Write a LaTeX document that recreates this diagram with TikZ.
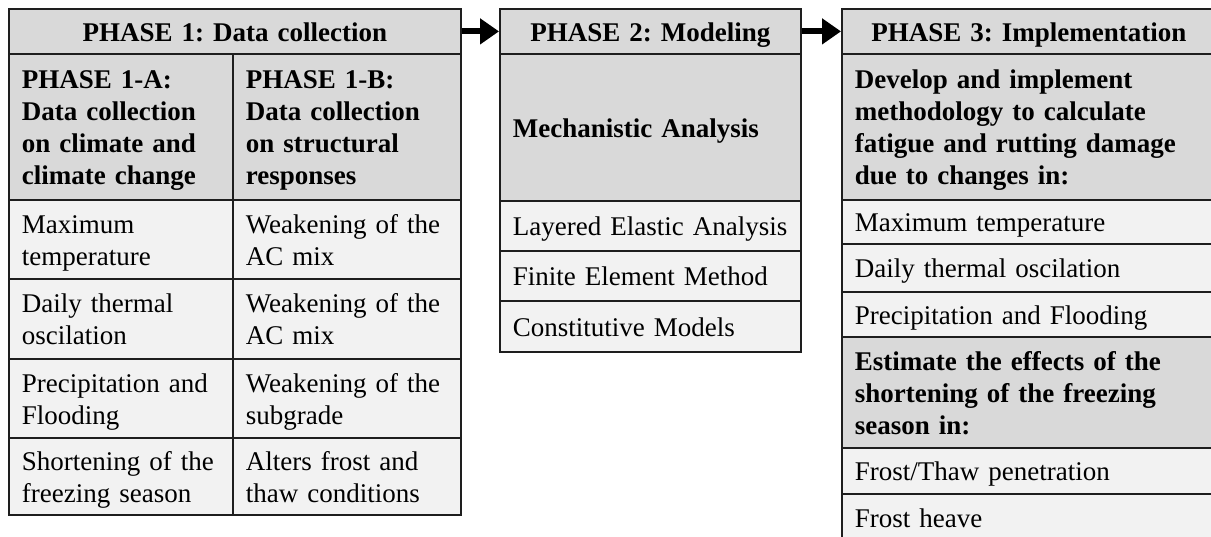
\documentclass[tikz,border=0pt]{standalone}
\usepackage{fontspec}
\setmainfont{Liberation Serif}
\usetikzlibrary{arrows.meta}
\frenchspacing
\definecolor{hdr}{HTML}{D9D9D9}
\definecolor{lite}{HTML}{F2F2F2}
\definecolor{edge}{HTML}{1E1E1E}
\newcommand\mkcell[7]{%
  \pgfmathsetmacro\cw{(#4-#2)*0.5}%
  \pgfmathsetmacro\ch{(#5-#3)*0.5}%
  \pgfmathsetmacro\tw{\cw-13}%
  \node[cellbox,#6,minimum width=\cw pt,minimum height=\ch pt,text width=\tw pt,anchor=north west] (#1) at (#2,#3) {#7};}
\tikzset{
  cellbox/.style={draw=edge,line width=0.9pt,inner xsep=6.5pt,inner ysep=0pt,
    font=\fontsize{13.5}{16}\selectfont,align=left,
    execute at begin node={\leavevmode\rule{0pt}{14pt}},
    execute at end node={\rule[-4pt]{0pt}{4pt}}},
  hd/.style={fill=hdr,font=\fontsize{13.5}{16}\selectfont\bfseries,align=center},
  sub/.style={fill=hdr,font=\fontsize{13.5}{16}\selectfont\bfseries},
  item/.style={fill=lite},
  flow/.style={line width=3pt,-{Triangle[length=9.5pt,width=12.5pt]}}
}
\begin{document}
\begin{tikzpicture}[x=0.5pt,y=-0.5pt]
\useasboundingbox (0,0) rectangle (1211,536);
\clip (0,0) rectangle (1211,536);
% Phase 1
\mkcell{h1}{8}{8}{460}{53}{hd}{PHASE 1: Data collection}
\mkcell{h1a}{8}{53}{232}{199}{sub}{PHASE 1-A:\\Data collection\\on climate and\\climate change}
\mkcell{h1b}{232}{53}{460}{199}{sub}{PHASE 1-B:\\Data collection\\on structural\\responses}
\mkcell{a1}{8}{199}{232}{278}{item}{Maximum\\temperature}
\mkcell{b1}{232}{199}{460}{278}{item}{Weakening of the\\AC mix}
\mkcell{a2}{8}{278}{232}{358}{item}{Daily thermal\\oscilation}
\mkcell{b2}{232}{278}{460}{358}{item}{Weakening of the\\AC mix}
\mkcell{a3}{8}{358}{232}{437}{item}{Precipitation and\\Flooding}
\mkcell{b3}{232}{358}{460}{437}{item}{Weakening of the\\subgrade}
\mkcell{a4}{8}{437}{232}{514}{item}{Shortening of the\\freezing season}
\mkcell{b4}{232}{437}{460}{514}{item}{Alters frost and\\thaw conditions}
% Phase 2
\mkcell{h2}{499}{8}{800}{53}{hd}{PHASE 2: Modeling}
\mkcell{m2}{499}{53}{800}{200}{sub}{Mechanistic Analysis}
\mkcell{c1}{499}{200}{800}{250}{item}{Layered Elastic Analysis}
\mkcell{c2}{499}{250}{800}{300}{item}{Finite Element Method}
\mkcell{c3}{499}{300}{800}{351}{item}{Constitutive Models}
% Phase 3
\mkcell{h3}{841}{8}{1215}{53}{hd}{PHASE 3: Implementation}
\mkcell{d3}{841}{53}{1215}{199}{sub}{Develop and implement\\methodology to calculate\\fatigue and rutting damage\\due to changes in:}
\mkcell{e1}{841}{199}{1215}{243}{item}{Maximum temperature}
\mkcell{e2}{841}{243}{1215}{291}{item}{Daily thermal oscilation}
\mkcell{e3}{841}{291}{1215}{336}{item}{Precipitation and Flooding}
\mkcell{f3}{841}{336}{1215}{447}{sub}{Estimate the effects of the\\shortening of the freezing\\season in:}
\mkcell{g1}{841}{447}{1215}{493}{item}{Frost/Thaw penetration}
\mkcell{g2}{841}{493}{1215}{541}{item}{Frost heave}
% arrows
\draw[flow] (h1.east) -- (h2.west);
\draw[flow] (h2.east) -- (h3.west);
\end{tikzpicture}
\end{document}
